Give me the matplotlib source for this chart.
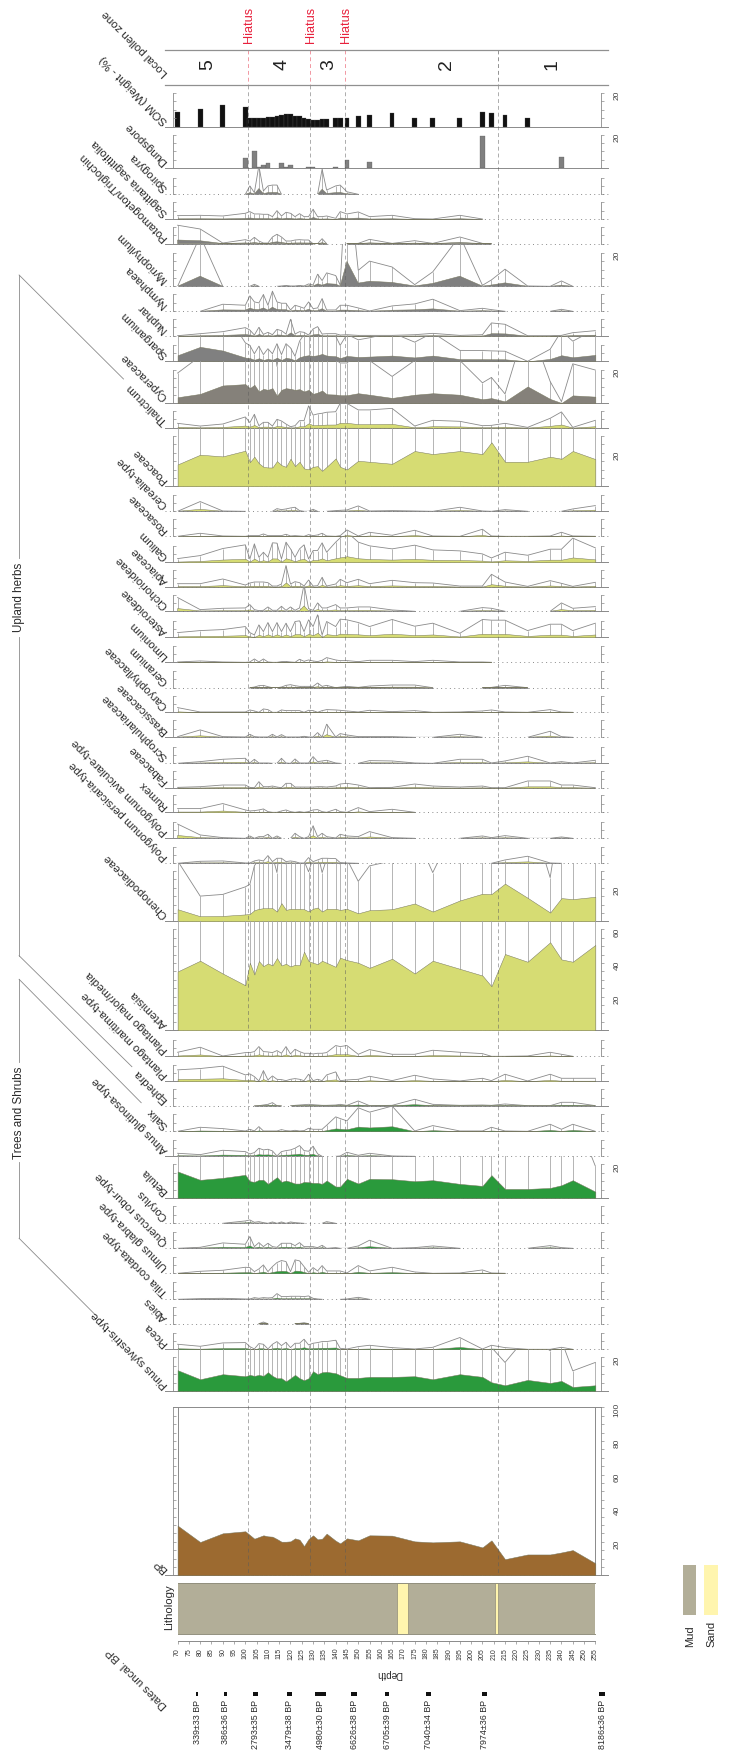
import numpy as np
import matplotlib
matplotlib.use('Agg')
import matplotlib.pyplot as plt
from matplotlib.patches import Rectangle

plt.rcParams['font.family'] = ['Liberation Sans', 'DejaVu Sans']

# Sample depths (cm)
depth = [70, 80, 90, 100,
         102, 104, 106, 108, 110, 112, 114, 116, 118, 120, 122, 124, 126, 128, 130, 132, 134, 136,
         140, 142, 145,
         150, 155, 165, 175, 183, 195, 205, 209,
         215, 225, 235, 240, 245, 255]

# Percentages, same order as depth
som = [9, 10.5, 13, 12,
       5.4, 5.4, 5.4, 5.4, 5.8, 6, 6.2, 7.2, 7.4, 7.4, 6.6, 6.4, 5, 4.8, 4.2, 4.2, 4.5, 4.8,
       5, 5.2, 5.4,
       6.6, 7, 8.2, 5.2, 5.2, 5.2, 8.8, 8.2,
       7, 5.4, 0, 0, 0, 0]
dung = [0, 0, 0, 6,
        0, 10.2, .6, 1.8, 3, 0, 0, 3, .6, 1.8, 0, 0, 0, .6, .6, 0, 0, 0,
        .6, 0, 4.8,
        0, 3.6, 0, 0, 0, 0, 19.2, 0,
        0, 0, 0, 6.6, 0, 0]
spirogyra = [0, 0, 0, 0,
             1, .2, 3.4, .4, 1, 1.1, 1.1, 0, 0, 0, 0, 0, 0, 0, 0, 0, 3, .5,
             1, 1.1, .3,
             0, 0, 0, 0, 0, 0, 0, 0,
             0, 0, 0, 0, 0, 0]
sagittaria = [.4, .44, .36, .68,
              .88, .6, .6, .56, .56, .28, 1, .36, .8, .68, .28, .64, .28, .28, 1.16, .28, .28, .36,
              .08, .88, .6,
              .84, .28, .44, .04, 0, .44, 0, 0,
              0, 0, 0, 0, 0, 0]
potamogeton = [2.2, 1.75, .08, .48,
               .32, .76, .32, .08, .08, .8, 1.12, .8, .32, .32, .44, .48, .44, .44, 0, 0, .6, 0,
               0, 0, 0,
               .04, .52, .04, .36, .04, .8, .04, 0,
               0, 0, 0, 0, 0, 0]
myriophyllum = [0, 6, 0, 0,
                0, .24, 0, 0, 0, 0, 0, .04, .1, .04, .04, .1, .04, .28, .16, 1.44, .68, 1.6,
                1.28, .16, 14.8,
                1.9, 3, 2.3, .2, 1.72, 6, .12, .76,
                2.04, .04, 0, .64, 0, 0]
nymphaea = [0, 0, .84, .72,
            1.84, 1.12, 1, 2, .72, 2.4, 1.12, .96, .96, .16, .72, .56, .36, 1.12, .32, .4, 1.52, .16,
            .16, .72, .72,
            .4, .04, .64, .88, 1.44, .08, .36, .2,
            0, 0, 0, .24, 0, 0]
nuphar = [0, .24, .48, .96,
          .68, .08, 1, .16, .4, .12, .76, .6, .2, 1.96, .2, .48, .4, .08, .8, 1.08, .2, .24,
          .24, .08, .12,
          .04, .04, .04, .12, .28, .04, .12, 1.52,
          1.36, 0, 0, .04, .36, .6]
sparganium = [3.6, 8.6, 6.4, 2.2,
              1.9, .9, 1.8, .8, 1.5, .9, 2.1, .8, 2.1, 1.6, .6, 2.4, 3.2, 3.6, 3.2, 3.6, 4.4, 3.4,
              3, 1.9, 3.2,
              2.56, 2.8, 3.4, 2.28, 3.4, 1.3, 1.28, 1.24,
              1.2, 0, 1.44, 3.6, 2.4, 3.8]
cyperaceae = [3.6, 5.6, 10.6, 11.4,
              9, 11, 7, 8.6, 8, 9, 4.4, 8, 9, 8.6, 8, 8.4, 7, 8, 5.6, 6.4, 7.6, 5.4,
              5.2, 4.8, 4.8,
              6, 5.1, 3.2, 5.1, 6, 5.1, 2.44, 3.08,
              1.12, 10, 2.6, .2, 4.7, 3.96]
thalictrum = [.52, .2, .44, 1.28,
              .6, 1.6, .24, .64, .64, .2, 1, .8, .44, .12, .24, .84, .84, 2.6, 1.5, 1.64, 1.72, 1.84,
              1.9, 2.9, 2.9,
              2.12, 2.12, 2.3, .2, .88, .76, .24, .28,
              .52, .04, 1.12, 1.88, .04, .88]
poaceae = [13, 18.8, 17.8, 21.2,
           14.4, 17.6, 13.7, 11.6, 11.2, 11.2, 15, 12.6, 11.6, 16.4, 12, 14.6, 10.6, 10.2, 11.6, 12, 9.2, 11.6,
           16.6, 11.6, 10,
           15.2, 14.6, 13.4, 21, 19.2, 21, 19.2, 26.2,
           14.6, 14.6, 17.6, 16.4, 21, 16.2]
cerealia = [0, 1.16, .04, 0,
            0, 0, 0, 0, 0, 0, .32, .2, .28, .4, .48, .08, 0, 0, .24, 0, 0, 0,
            .08, .12, .16,
            .64, .04, .08, .04, 0, .48, .04, 0,
            .2, 0, 0, 0, .28, .68]
rosaceae = [0, .36, .04, 0,
            .08, .08, .08, .28, .08, .08, .08, .08, .24, .04, .08, .04, 0, .2, .08, .16, .36, .04,
            0, .08, .76,
            .04, .48, .12, .72, .04, 0, .84, .04,
            0, 0, .04, .48, .04, 0]
galium = [.44, .8, 1.64, 2.08,
          .4, 2.2, .6, 1.2, .6, 2.32, 2.28, .4, 2.4, 1.6, .6, 1.6, 2.08, .4, 1.4, 1.4, 2.32, 1.2,
          2.4, 2.9, 3.6,
          2.4, 1.96, 1.6, 2.04, 1.48, 1.36, 1, .52,
          1.2, .84, 1.56, 1.56, 2.88, 1.72]
apiaceae = [.36, .36, .92, .2,
            .44, .56, .56, .56, .48, .08, .08, .32, 2.52, .32, .6, .48, .08, .8, .08, .12, 1.12, .08,
            .32, .88, .48,
            .88, .36, .76, .48, .44, .08, .08, 1.48,
            .56, .04, .72, .4, .04, .52]
cichorioideae = [1.64, .2, .36, .4,
                 .8, .2, .08, .12, .52, .12, .12, .6, .12, .52, .12, .4, 3.2, .32, .12, 1, .4, .4,
                 .8, .4, .4,
                 .52, .52, .16, 0, 0, 0, .44, .36,
                 0, 0, 0, 1, .36, .56]
asteroideae = [.56, .8, .92, 1.28,
               .56, .28, 1.48, .68, 1.76, .68, 1.76, .68, 1.68, .68, 1.88, 1.96, .68, 2.08, 1.28, 2.68, .28, 1.88,
               1.28, 2.16, 2.08,
               1.76, 1.28, 2.12, 1.32, 1.68, .48, 2.12, 2.04,
               2.04, .8, 1.56, 1.56, .8, 1.68]
limonium = [.04, .16, .04, 0,
            .04, .4, .04, .4, .04, 0, 0, .08, .1, .04, 0, .36, .12, .28, .16, .08, .24, .56,
            .28, .2, .2,
            .08, .24, .24, .08, .24, .04, .04, 0,
            0, 0, 0, 0, 0, 0]
geranium = [0, 0, 0, 0,
            0, .08, .24, .28, .12, 0, 0, .08, .28, .36, .24, .16, .16, .16, .16, .56, .16, .28,
            0, .08, .16,
            .04, .2, .32, .32, 0, 0, 0, .04,
            .28, 0, 0, 0, 0, 0]
caryophyllaceae = [.56, .04, .04, .04,
                   .28, .16, 0, .4, .32, 0, 0, .28, .2, .2, .2, .2, 0, .24, .2, 0, .2, .32,
                   .28, .24, .16,
                   .04, .24, .08, .2, 0, .04, .16, .28,
                   .04, 0, .32, .04, 0, 0]
brassicaceae = [.08, .88, .08, .04,
                .36, .08, .04, .04, .04, .36, .04, .32, .04, .04, .04, .04, .12, .04, .04, .56, .04, 1.56,
                .04, .44, .28,
                .08, .08, .08, 0, 0, .36, 0, 0,
                0, 0, .72, .08, 0, 0]
scrophulariaceae = [0, .2, .48, .6,
                    .04, .48, .04, .04, .04, 0, 0, .6, .04, 0, .52, .04, .04, .04, .8, .2, .28, .36,
                    .04, 0, 0,
                    0, .32, .28, .04, 0, .48, .48, .04,
                    .28, .84, .04, .2, .04, .36]
fabaceae = [.04, .12, .32, .32,
            .04, 0, .72, .12, .12, .2, .08, 0, .52, .52, .08, .08, .08, .08, .08, .12, .12, .08,
            .2, .44, .52,
            .32, 0, .04, .44, .2, .08, .2, 0,
            0, .8, .8, .32, .32, 0]
rumex = [.44, .44, 1.04, .28,
         .16, .2, .28, .4, .08, 0, 0, .16, .28, .08, 0, .08, 0, .08, .28, .32, .08, 0,
         .36, .08, 0,
         .56, .08, .36, 0, 0, 0, 0, 0,
         0, 0, 0, 0, 0, 0]
pol_aviculare = [1.7, .4, .08, 0,
                 .28, 0, .2, .2, .48, 0, .28, 0, 0, 0, .6, .2, 0, .2, 1.5, .2, .6, .2,
                 .04, .48, .28,
                 .2, .8, .08, 0, 0, 0, .28, .08,
                 .32, 0, 0, .16, 0, 0]
pol_persicaria = [0, .24, .28, .04,
                  .04, .28, .4, .28, .92, .2, .6, .6, .2, .28, .2, .04, .04, .68, .2, .4, .6, .6,
                  .56, .08, .04,
                  0, 0, 0, 0, 0, 0, 0, 0,
                  .4, .84, .04, 0, 0, 0]
chenopodiaceae = [7.2, 3, 3.2, 4.1,
                  4.4, 6.6, 7.4, 7.8, 7.8, 7.8, 5.8, 10.8, 6.8, 7.4, 7.4, 7.4, 7.2, 5.9, 7.5, 8.2, 5.8, 7.4,
                  7.4, 6.8, 7.4,
                  4.76, 6.6, 7.2, 10.6, 5.8, 12.4, 16.4, 16.2,
                  22.4, 14, 5.2, 13.8, 13.2, 14.6]
artemisia = [35, 41.4, 33.8, 26.8,
             40.2, 33.2, 41.2, 38.2, 39.8, 38.6, 43, 38.6, 39.6, 38, 39, 38.8, 46.8, 41.2, 40.2, 39.4, 41.4, 40.2,
             37.8, 43.2, 41.8,
             40.2, 37.2, 42.6, 33.8, 41.4, 36.6, 32.6, 26.2,
             45.4, 40.8, 52.4, 42.2, 40.8, 50.8]
plantago_major = [.48, 1.08, .04, .44,
                  .44, .56, 1.16, .56, .52, .44, .68, .36, 1.16, .28, .84, .56, .36, .36, .28, .36, .36, .44,
                  1.28, 1.16, 1.28,
                  .24, .8, .24, .24, .72, .48, .32, 0,
                  0, .04, .48, .24, 0, 0]
plantago_maritima = [1.36, 1.52, 1.8, .76,
                     .88, .56, .04, 1.28, .16, .64, .24, .2, .08, .24, .32, .24, .08, .84, .08, .24, .08, .76,
                     1.12, .08, .16,
                     .24, .6, .08, .72, .28, .04, .36, .08,
                     .84, .04, .84, .36, .36, .36]
ephedra = [0, 0, 0, 0,
           0, 0, .04, .12, .2, .4, .04, 0, 0, 0, .08, .12, .16, .2, .16, .12, .08, .08,
           .12, .2, .08,
           .6, .04, .08, .8, .2, .08, .12, .08,
           .24, .04, .04, .44, .44, .04]
salix = [0, .48, .32, .04,
         .24, .04, .56, .04, .04, .04, .04, .2, .08, .04, .12, .04, .08, .36, .24, .24, .24, .72,
         1.72, 1.52, 1.24,
         2.8, 2.28, 3, .04, .68, .04, .04, .48,
         .04, 0, .84, .24, .84, 0]
alnus = [.36, .2, .72, .56,
         .28, .44, .96, .76, .84, .64, .04, .56, .68, .76, .96, 1.28, .68, .6, 1.2, .3, 0, 0,
         0, .04, .48,
         .12, .36, .04, 0, 0, 0, 0, 0,
         0, 0, 0, 0, 0, 0]
betula = [15.8, 10.8, 12, 13.8,
          10, 9.6, 10.8, 10.8, 8.4, 10.4, 12.4, 9.6, 10.4, 9.6, 8.6, 8.6, 9.6, 9.4, 9, 9, 8.4, 10.4,
          6.8, 6.8, 11.4,
          8.6, 11.4, 11.2, 10, 10.6, 8.4, 7.2, 13.6,
          5.4, 5.4, 6, 7.6, 10.6, 3.8]
corylus = [0, 0, 0, .28,
           .4, .12, .2, .08, 0, .16, 0, .16, 0, .16, .08, .04, 0, 0, 0, 0, 0, .2,
           0, 0, 0,
           0, 0, 0, 0, 0, 0, 0, 0,
           0, 0, 0, 0, 0, 0]
quercus = [0, .12, .64, .48,
           1.4, .2, .68, .2, .6, .2, .12, .6, .6, .6, .32, .68, .2, .2, .2, .08, .36, 0,
           .08, 0, 0,
           .28, .96, 0, .08, .28, 0, 0, 0,
           0, 0, .32, .08, 0, 0]
ulmus = [0, .24, .36, .72,
         .68, .2, .52, 1, .2, .8, 1.28, 1.52, 1.4, .2, 1.6, 1.48, .8, .12, .68, .28, .92, .28,
         .28, .28, .04,
         .92, .28, .72, .16, 0, .04, .4, .04,
         0, 0, 0, 0, 0, 0]
tilia = [0, .08, .12, .04,
         .04, .2, .12, .2, .16, .2, .68, .32, .32, .36, .36, .36, .32, .4, .12, .04, 0, 0,
         0, 0, .04,
         .24, 0, 0, 0, 0, 0, 0, 0,
         0, 0, 0, 0, 0, 0]
abies = [0, 0, 0, 0,
         0, 0, 0, .2, 0, 0, 0, 0, 0, 0, 0, .04, .12, 0, 0, 0, 0, 0,
         0, 0, 0,
         0, 0, 0, 0, 0, 0, 0, 0,
         0, 0, 0, 0, 0, 0]
picea = [.6, .36, .76, .8,
         .32, .04, .68, .6, .04, .6, .92, .44, .84, .2, .72, .72, 1.2, .52, .72, .8, .92, .92,
         1.08, .12, .04,
         .32, .48, .2, .04, .24, 1.4, .04, .48,
         .2, 0, 0, .24, 0, 0]
pinus = [12.4, 7, 10, 8.8,
         9.6, 9, 9.6, 9, 11.2, 9, 7.6, 7.6, 5.8, 7.6, 9.6, 7.6, 6.4, 7.6, 11.8, 10, 11.2, 11.4,
         10.6, 9.4, 7.8,
         7.8, 8.4, 8.4, 8.8, 7, 10, 8.4, 5.2,
         3.4, 6.6, 4.8, 6, 2.4, 3.4]
bp = [29.6, 19.8, 25, 26.2,
      24, 21.8, 22.8, 23.8, 23.2, 23, 21.6, 20, 20, 20.2, 22, 21.2, 17.4, 21.6, 23.8, 21.4, 21.8, 24.8,
      20.6, 19, 22,
      20.8, 23.8, 23.6, 20.2, 19.6, 20.2, 16.6, 20.8,
      9.6, 12.4, 12.4, 13.6, 15, 7.2]

# Zones, dates and lithology
zone_bounds = [101.2, 128.8, 144.1, 212]
zone_names = ['5', '4', '3', '2', '1']
zone_mid = [83.2, 116.4, 137, 188.9, 235.8]
date_labels = ['339±33 BP', '386±36 BP', '2793±35 BP', '3479±38 BP', '4980±30 BP',
               '6626±38 BP', '6705±39 BP', '7040±34 BP', '7974±36 BP', '8186±36 BP']
date_depth = [78.6, 91.2, 104.6, 119.5, 133.3, 148.2, 162.8, 181, 206, 258]
date_width = [1.2, 1.2, 2, 1.9, 4.7, 2.4, 1.9, 2.3, 2.3, 2.3]
sand_from = [167, 210.5]
sand_to = [172.1, 211.8]

W, H = 731, 1753
PX_D = 2.258      # pixels per depth unit
PX_P = 1.68       # pixels per percent
X0, X1 = 164.6, 608.4
AX_L, AX_R = 172.5, 600.7

DARK = '#808080'
YEL = '#d6dc73'
GRN = '#2a9a3c'
GREY = '#8a8a8a'
TXT = '#2a2a2a'


def d_of(px):
    return 70 + (px - 177.6) / PX_D


def px_axes(x0, x1, ytop, ybot):
    a = fig.add_axes([x0 / W, 1 - ybot / H, (x1 - x0) / W, (ybot - ytop) / H])
    a.patch.set_alpha(0)
    return a


fig = plt.figure(figsize=(W / 100, H / 100), dpi=100)

# label, values, colour, baseline (px), top tick, kind
panels = [
    ('SOM (Weight - %)', som, '#111111', 126.7, 20, 'bar'),
    ('Dungspore', dung, DARK, 168.3, 20, 'bar'),
    ('Spirogyra', spirogyra, DARK, 194.3, 10, 'curve'),
    ('Sagittaria sagittifolia', sagittaria, DARK, 219, 10, 'curve'),
    ('Potamogeton/Triglochin', potamogeton, DARK, 243.7, 10, 'curve'),
    ('Myriophyllum', myriophyllum, DARK, 286.3, 20, 'curve'),
    ('Nymphaea', nymphaea, DARK, 311.3, 10, 'curve'),
    ('Nuphar', nuphar, DARK, 335.7, 10, 'curve'),
    ('Sparganium', sparganium, DARK, 361.3, 10, 'curve'),
    ('Cyperaceae', cyperaceae, '#85817a', 403.3, 20, 'curve'),
    ('Thalictrum', thalictrum, YEL, 427.7, 10, 'curve'),
    ('Poaceae', poaceae, YEL, 486.3, 30, 'curve'),
    ('Cerealia-type', cerealia, YEL, 511.3, 10, 'curve'),
    ('Rosaceae', rosaceae, YEL, 536.3, 10, 'curve'),
    ('Galium', galium, YEL, 562.3, 10, 'curve'),
    ('Apiaceae', apiaceae, YEL, 586.7, 10, 'curve'),
    ('Cichorioideae', cichorioideae, YEL, 611.3, 10, 'curve'),
    ('Asteroideae', asteroideae, YEL, 637.3, 10, 'curve'),
    ('Limonium', limonium, YEL, 662.3, 10, 'curve'),
    ('Geranium', geranium, YEL, 687.7, 10, 'curve'),
    ('Caryophyllaceae', caryophyllaceae, YEL, 712.3, 10, 'curve'),
    ('Brassicaceae', brassicaceae, YEL, 737.3, 10, 'curve'),
    ('Scrophulariaceae', scrophulariaceae, YEL, 763.3, 10, 'curve'),
    ('Fabaceae', fabaceae, YEL, 787.7, 10, 'curve'),
    ('Rumex', rumex, YEL, 812.3, 10, 'curve'),
    ('Polygonum aviculare-type', pol_aviculare, YEL, 838.3, 10, 'curve'),
    ('Polygonum persicaria-type', pol_persicaria, YEL, 863.3, 10, 'curve'),
    ('Chenopodiaceae', chenopodiaceae, YEL, 921.3, 30, 'curve'),
    ('Artemisia', artemisia, YEL, 1030.3, 60, 'curve'),
    ('Plantago major/media', plantago_major, YEL, 1056.3, 10, 'curve'),
    ('Plantago maritima-type', plantago_maritima, YEL, 1081.3, 10, 'curve'),
    ('Ephedra', ephedra, GRN, 1106, 10, 'curve'),
    ('Salix', salix, GRN, 1131.3, 10, 'curve'),
    ('Alnus glutinosa-type', alnus, GRN, 1156.3, 10, 'curve'),
    ('Betula', betula, GRN, 1198, 20, 'curve'),
    ('Corylus', corylus, GRN, 1223.3, 10, 'curve'),
    ('Quercus robur-type', quercus, GRN, 1248.3, 10, 'curve'),
    ('Ulmus glabra-type', ulmus, GRN, 1273.3, 10, 'curve'),
    ('Tilia cordata-type', tilia, GRN, 1299.3, 10, 'curve'),
    ('Abies', abies, GRN, 1323.7, 10, 'curve'),
    ('Picea', picea, GRN, 1349.3, 10, 'curve'),
    ('Pinus sylvestris-type', pinus, GRN, 1391, 20, 'curve'),
    ('BP', bp, '#9c6a30', 1575.3, 100, 'plain'),
]

d = np.array(depth, dtype=float)
prev_base = 85.3
labels_todo = []
for name, vals, col, base, top, kind in panels:
    v = np.array(vals, dtype=float)
    ax = px_axes(X0, X1, prev_base, base)
    ax.set_xlim(d_of(X0), d_of(X1))
    ax.set_ylim(0, (base - prev_base) / PX_P)
    for s in ['top', 'bottom']:
        ax.spines[s].set_visible(False)
    for s, xp in [('left', AX_L), ('right', AX_R)]:
        ax.spines[s].set_position(('data', d_of(xp)))
        ax.spines[s].set_bounds(0, top)
        ax.spines[s].set_color(GREY)
        ax.spines[s].set_linewidth(0.6)
    ax.set_xticks([])
    ax.set_yticks(np.arange(0, top + 1, 5))
    ax.tick_params(axis='y', left=True, right=True, labelleft=False, labelright=False,
                   length=2.3, width=0.5, color=GREY)
    for t in ax.yaxis.get_major_ticks():
        t.tick1line.set_marker(1)   # left axis ticks point into the panel

    # zero line: dotted where there is nothing, solid where there are counts
    nz = (v > 0)
    keep = nz.copy()
    keep[:-1] |= nz[1:]
    keep[1:] |= nz[:-1]
    if kind == 'bar':
        ax.plot([d_of(X0), d_of(X1)], [0, 0], color='#8a8a8a', lw=0.7, clip_on=False)
        ax.bar(d[nz], v[nz], width=2.1, color=col, edgecolor='#555555', linewidth=0.2)
    else:
        ax.plot([d_of(X0), d_of(X1)], [0, 0], color='#8a8a8a', lw=0.7, ls=(0, (1, 3.5)), clip_on=False)
        for i in range(len(d) - 1):
            if nz[i] or nz[i + 1]:
                ax.plot(d[i:i + 2], [0, 0], color='#7a7a7a', lw=0.6, clip_on=False, solid_capstyle='butt')
        if nz[0]:
            ax.plot([d_of(X0), d[0]], [0, 0], color='#8a8a8a', lw=0.7, clip_on=False)
        if nz[-1]:
            ax.plot([d[-1], d_of(X1)], [0, 0], color='#8a8a8a', lw=0.7, clip_on=False)
        if kind == 'curve':
            ex = v * 5
            ax.vlines(d[nz], 0, ex[nz], color='#a0a0a0', lw=0.55)
            ax.plot(d, np.where(keep, ex, np.nan), color='#8a8a8a', lw=0.6)
        ax.fill_between(d, 0, v, where=keep, facecolor=col, edgecolor='#77775f', linewidth=0.35, zorder=3)

    if name == 'BP':
        ax.plot([d_of(AX_L), d_of(AX_R)], [100, 100], color=GREY, lw=0.7, clip_on=False)
        ax.vlines([70, 255], 0, 100, color=GREY, lw=0.7)
    labels_todo.append((name, base, top))
    prev_base = base

# Lithology column
ax = px_axes(177.6, 595.3, 1583, 1634)
ax.set_xlim(70, 255)
ax.set_ylim(0, 1)
ax.set_xticks([])
ax.set_yticks([])
ax.add_patch(Rectangle((70, 0), 185, 1, fc='#b2ae98', ec='none'))
for a0, a1 in zip(sand_from, sand_to):
    ax.add_patch(Rectangle((a0, 0), a1 - a0, 1, fc='#fff5ae', ec='#8f8c78', lw=0.5))
for s in ax.spines.values():
    s.set_color('#92907e')
    s.set_linewidth(0.7)
for s in ['left', 'right']:
    ax.spines[s].set_visible(False)

# Depth axis
ax = px_axes(177.6, 595.3, 1640.6, 1641.3)
ax.set_xlim(70, 255)
ax.set_yticks([])
for s in ['left', 'right', 'top']:
    ax.spines[s].set_visible(False)
ax.spines['bottom'].set_color(GREY)
ax.spines['bottom'].set_linewidth(0.7)
ax.set_xticks(np.arange(70, 256, 5))
ax.tick_params(axis='x', length=2.5, width=0.5, color=GREY, pad=2.2, labelsize=5,
               labelrotation=90, labelcolor='#333333')

# Overlay in depth units: zone lines
ov = px_axes(177.6, 595.3, 50, 1575.3)
ov.set_xlim(70, 255)
ov.set_ylim(1575.3, 50)
ov.axis('off')
for i, z in enumerate(zone_bounds):
    ov.plot([z, z], [85.3, 1575.3], color='#5a5a5a', alpha=0.5, lw=0.7, ls=(0, (4, 3)), clip_on=False)
    band = '#ee7f8c' if i < 3 else '#777777'
    ov.plot([z, z], [50, 85.3], color=band, alpha=0.8, lw=0.7, ls=(0, (4, 3)), clip_on=False)
    if i < 3:
        ov.text(z + 0.4, 43.5, 'Hiatus', color='#e8203c', rotation=90, ha='center', va='bottom', fontsize=9.2)
for m, n in zip(zone_mid, zone_names):
    ov.text(m, 64.3, n, rotation=90, ha='center', va='center', fontsize=14, color='#222222')
ov.plot([d_of(X0), d_of(X1)], [50, 50], color='#909090', lw=0.9, clip_on=False)
ov.plot([d_of(X0), d_of(X1)], [85.3, 85.3], color='#909090', lw=0.9, clip_on=False)
for dd, wd, lab in zip(date_depth, date_width, date_labels):
    ov.add_patch(Rectangle((dd - wd / 2, 1692), wd, 4, fc='#111111', ec='none', clip_on=False))
    ov.text(dd, 1700, lab, rotation=90, ha='center', va='top', fontsize=6.4, color=TXT, clip_on=False)

# Overlay in pixels: labels and group brackets
pv = fig.add_axes([0, 0, 1, 1])
pv.set_xlim(0, W)
pv.set_ylim(H, 0)
pv.axis('off')


def slanted(txt, y):
    pv.text(166, y, txt, rotation=135, rotation_mode='anchor', ha='left', va='center',
            fontsize=8.2, color=TXT)


for name, base, top in labels_todo:
    slanted(name, base - 4.5)
    for val in range(20, top + 1, 20):
        pv.text(617.3, base - val * PX_P + 2.7, str(val), rotation=90, ha='center', va='center',
                fontsize=6, color='#444444')
slanted('Local pollen zone', 75)
slanted('Dates uncal. BP', 1706.7)
pv.text(169, 1606.7, 'Lithology', rotation=90, ha='center', va='center', fontsize=8.2, color=TXT)
pv.text(389, 1674, 'Depth', rotation=180, ha='center', va='center', fontsize=7, color=TXT)

brk = '#8a8a8a'
for xs, ys in [([19.1, 19.1], [275, 557.7]), ([19.1, 19.1], [637, 955.7]),
               ([19.1, 123.5], [275, 379]), ([19.1, 131.9], [955.7, 1066.7]),
               ([19.1, 19.1], [979.3, 1061.7]), ([19.1, 19.1], [1162, 1238.3]),
               ([19.1, 141.2], [979.3, 1102.7]), ([19.1, 95.5], [1238.3, 1315])]:
    pv.plot(xs, ys, color=brk, lw=0.6)
pv.text(18.9, 597, 'Upland herbs', rotation=90, ha='center', va='center', fontsize=8.4, color=TXT)
pv.text(18.9, 1112.5, 'Trees and Shrubs', rotation=90, ha='center', va='center', fontsize=8.4, color=TXT)

# Legend
for x0, fc, lab in [(682.7, '#b2ae98', 'Mud'), (704, '#fff5ae', 'Sand')]:
    pv.add_patch(Rectangle((x0, 1565), 13.5, 50, fc=fc, ec='none'))
    pv.text(x0 + 7, 1647, lab, rotation=90, ha='center', va='bottom', fontsize=8, color=TXT)

fig.savefig('out.png', dpi=100)
